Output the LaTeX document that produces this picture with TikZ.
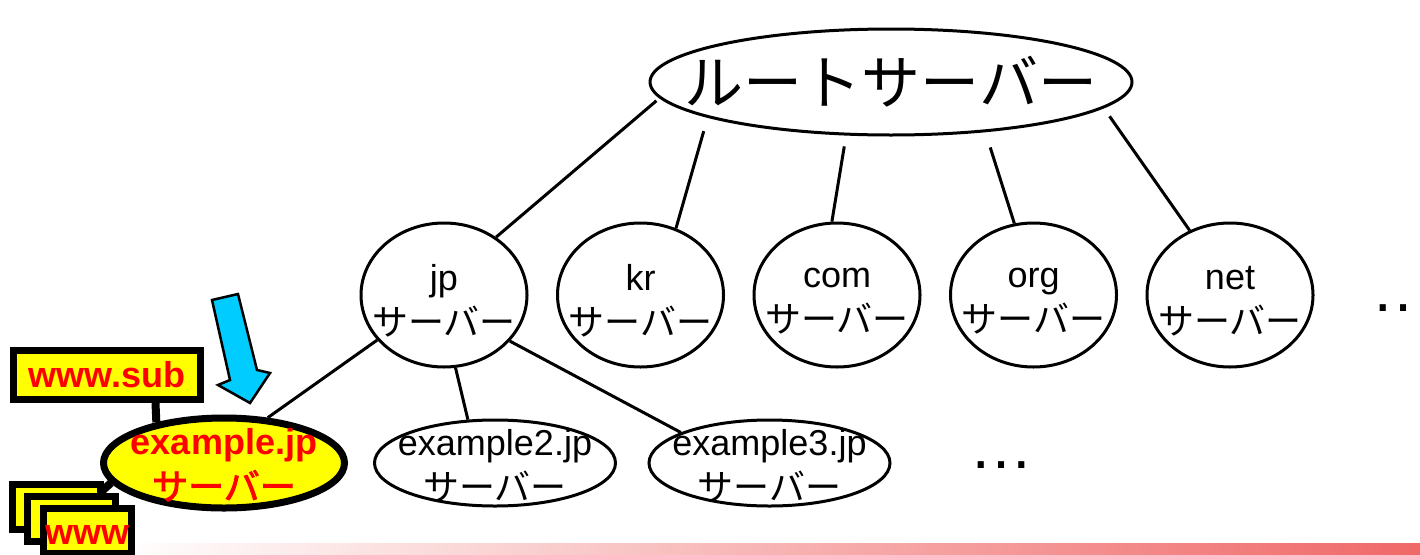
\documentclass[tikz,border=0pt]{standalone}
\usepackage{fontspec}
\setmainfont{Liberation Sans}
\newfontfamily\jpfont[BoldFont={Noto Sans CJK JP}, BoldFeatures={FakeBold=2.5}]{Noto Sans CJK JP}
\usetikzlibrary{shapes.geometric}
\pgfdeclarelayer{background}
\pgfsetlayers{background,main}
\definecolor{markyellow}{RGB}{255,255,0}
\definecolor{markred}{RGB}{255,0,0}
\definecolor{pointerblue}{RGB}{0,204,255}
\definecolor{barred}{RGB}{240,104,104}
\newcommand{\serverjp}{{\jpfont サーバー}}

\begin{document}
\begin{tikzpicture}[
    x=1pt, y=-1pt,
    link/.style={line width=3pt},
    srv/.style={draw, ellipse, line width=3pt, inner sep=0pt},
    srvtxt/.style={align=center, inner sep=0pt, font=\fontsize{36}{45}\selectfont},
    hostbox/.style={draw, fill=markyellow, line width=7pt, minimum width=88pt, minimum height=45pt, inner sep=0pt},
    hosttxt/.style={text=markred, font=\fontsize{36}{45}\selectfont\bfseries}
]
  \useasboundingbox (0,0) rectangle (1420,554);
  \shade[left color=white, right color=barred] (120,543) rectangle (1420,554);

  % root and top level domains
  \node[srv, minimum width=482pt, minimum height=106pt,
        label={[font=\fontsize{59}{59}\selectfont\jpfont, inner sep=0pt]center:ルートサーバー}] (root) at (891,82) {};
  \foreach \tld/\x in {jp/444, kr/640.5, com/837, org/1033.5, net/1230}
    \node[srv, minimum width=166pt, minimum height=144pt,
          label={[srvtxt, yshift=-6pt]center:{\tld\\\serverjp}}] (\tld) at (\x,295) {};
  \node[font=\fontsize{64}{64}\selectfont, anchor=base, inner sep=0pt] (moretld) at (1403,311) {…};

  % second level
  \node[srv, fill=markyellow, line width=7pt, minimum width=241pt, minimum height=90pt,
        label={[srvtxt, hosttxt, yshift=-2pt]center:{example.jp\\\serverjp}}] (exjp) at (224,463) {};
  \node[srv, minimum width=241pt, minimum height=86pt,
        label={[srvtxt, yshift=-3pt]center:{example2.jp\\\serverjp}}] (ex2) at (495,463) {};
  \node[srv, minimum width=241pt, minimum height=86pt,
        label={[srvtxt, yshift=-3pt]center:{example3.jp\\\serverjp}}] (ex3) at (769.5,463) {};
  \node[font=\fontsize{64}{64}\selectfont, anchor=base, inner sep=0pt] (moresld) at (1001,468.5) {…};

  % hosts
  \node[hostbox, hosttxt, minimum width=187pt, minimum height=49pt] (wsub) at (107,375) {www.sub};
  \node[hostbox] (www1) at (56,506.5) {};
  \node[hostbox] (www2) at (71.5,518.5) {};
  \node[hostbox, label={[hosttxt, yshift=-4pt]center:www}] (www3) at (87.5,531) {};

  \filldraw[fill=pointerblue, line width=2.5pt]
    (212,300) -- (238,294) -- (257,370) -- (270,373) -- (250,403) -- (218,385) -- (230,380) -- cycle;

  \begin{pgfonlayer}{background}
    \draw[link, shorten <=4pt] (root.184) -- (jp.48);
    \draw[link, shorten <=14pt] (root.191) -- (kr.62);
    \draw[link, shorten <=11pt] (root.230) -- (com.94);
    \draw[link, shorten <=16pt] (root.332) -- (org.105);
    \draw[link, shorten <=10pt] (root.353) -- (net.122);
    \draw[link] (jp.214) -- (exjp.46);
    \draw[link] (jp.279) -- (ex2.122);
    \draw[link] (jp.325) -- (ex3.161);
    \draw[line width=8pt] (wsub.330) -- (exjp.149);
    \draw[line width=8pt] (www2) -- (exjp.190);
  \end{pgfonlayer}
\end{tikzpicture}
\end{document}
